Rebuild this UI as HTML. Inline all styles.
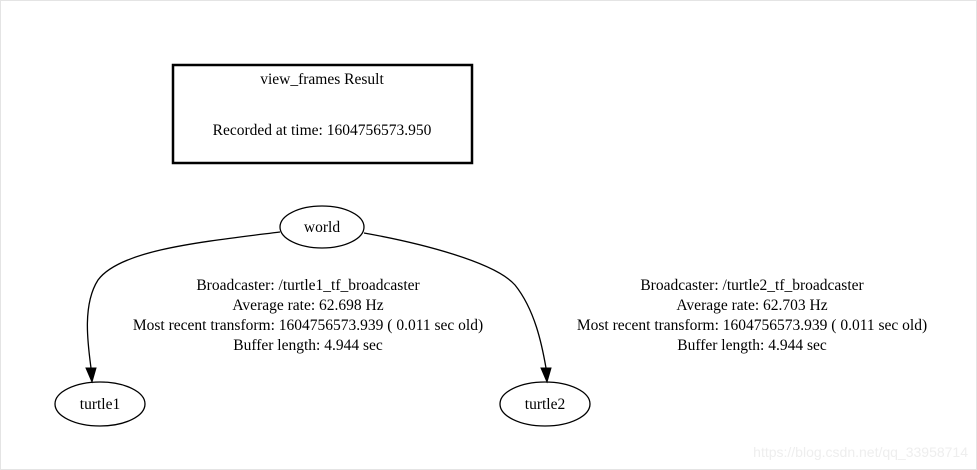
<!DOCTYPE html>
<html><head><style>
html,body{margin:0;padding:0;background:#fff;}
svg{display:block;}
text{font-family:"Liberation Serif",serif;font-size:15.5px;fill:#000;}
</style></head><body>
<svg width="977" height="470" viewBox="0 0 977 470" xmlns="http://www.w3.org/2000/svg">
<rect x="0.5" y="0.5" width="976" height="469" fill="#fff" stroke="#e4e4e4"/>
<rect x="173" y="65" width="299" height="98" fill="none" stroke="#000" stroke-width="2.5"/>
<text x="322" y="84" text-anchor="middle">view_frames Result</text>
<text x="322" y="135" text-anchor="middle">Recorded at time: 1604756573.950</text>
<ellipse cx="322" cy="227" rx="42" ry="21" fill="none" stroke="#000" stroke-width="1.3"/>
<text x="322" y="232" text-anchor="middle">world</text>
<ellipse cx="100" cy="404" rx="45" ry="22" fill="none" stroke="#000" stroke-width="1.3"/>
<text x="100" y="409" text-anchor="middle">turtle1</text>
<ellipse cx="545" cy="404" rx="45" ry="22" fill="none" stroke="#000" stroke-width="1.3"/>
<text x="545" y="409" text-anchor="middle">turtle2</text>
<path d="M280,232 C200,242 120,250 98,280 C82,305 88,345 91,368" fill="none" stroke="#000" stroke-width="1.3"/>
<polygon points="86,368 96,368 92,382" fill="#000" stroke="#000"/>
<path d="M364,233 C420,243 495,262 515,285 C535,310 542,345 546,368" fill="none" stroke="#000" stroke-width="1.3"/>
<polygon points="541,368 551,368 547,382" fill="#000" stroke="#000"/>
<text x="308" y="290" text-anchor="middle">Broadcaster: /turtle1_tf_broadcaster</text>
<text x="308" y="310" text-anchor="middle">Average rate: 62.698 Hz</text>
<text x="308" y="330" text-anchor="middle">Most recent transform: 1604756573.939 ( 0.011 sec old)</text>
<text x="308" y="350" text-anchor="middle">Buffer length: 4.944 sec</text>
<text x="752" y="290" text-anchor="middle">Broadcaster: /turtle2_tf_broadcaster</text>
<text x="752" y="310" text-anchor="middle">Average rate: 62.703 Hz</text>
<text x="752" y="330" text-anchor="middle">Most recent transform: 1604756573.939 ( 0.011 sec old)</text>
<text x="752" y="350" text-anchor="middle">Buffer length: 4.944 sec</text>
<text x="968" y="457" text-anchor="end" style="font-family:'Liberation Sans',sans-serif;font-size:14px;fill:#eeeeee">https://blog.csdn.net/qq_33958714</text>
</svg>
</body></html>
